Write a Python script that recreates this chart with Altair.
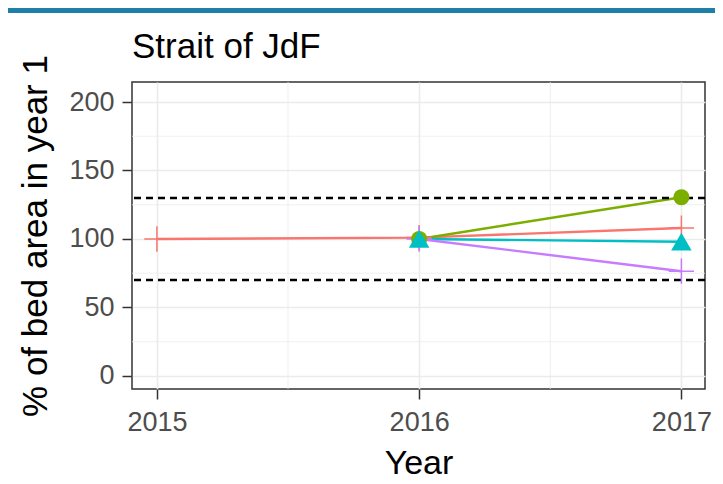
import altair as alt
import pandas as pd

# ---- data ----
series = ["Bed 1", "Bed 2", "Bed 3", "Bed 4"]
colors = ["#F8766D", "#7CAE00", "#00BFC4", "#C77CFF"]
years_bed1 = [2015, 2016, 2017]
vals_bed1 = [100, 101, 108]
years_bed2 = [2016, 2017]
vals_bed2 = [100, 130.5]
years_bed3 = [2016, 2017]
vals_bed3 = [100, 98]
years_bed4 = [2016, 2017]
vals_bed4 = [100, 76.5]
thresholds = [70, 130]
x_ticks = [2015, 2016, 2017]
y_ticks = [0, 50, 100, 150, 200]
x_minor = [2015.5, 2016.5]
y_minor = [25, 75, 125, 175]
chart_title = "Strait of JdF"
x_title = "Year"
y_title = "% of bed area in year 1"

rows = []
for name, ys, vs in zip(series,
                        [years_bed1, years_bed2, years_bed3, years_bed4],
                        [vals_bed1, vals_bed2, vals_bed3, vals_bed4]):
    for yr, v in zip(ys, vs):
        rows.append({"series": name, "year": yr, "value": v})
df = pd.DataFrame(rows)
thr_df = pd.DataFrame({"value": thresholds})
xminor_df = pd.DataFrame({"year": x_minor})
yminor_df = pd.DataFrame({"value": y_minor})

FONT = "Liberation Sans"
xscale = alt.Scale(domain=[2014.905, 2017.09], nice=False, zero=False)
yscale = alt.Scale(domain=[-9.5, 214.6], nice=False, zero=False)
cscale = alt.Scale(domain=series, range=colors)

x_enc = alt.X("year:Q", scale=xscale, title=x_title,
              axis=alt.Axis(values=x_ticks, format="d", grid=True,
                            gridColor="#ebebeb", gridWidth=1.6,
                            domain=False, tickColor="#333333", tickWidth=1.5,
                            tickSize=10, labelFont=FONT, labelFontSize=27,
                            labelColor="#4d4d4d", labelPadding=10,
                            labelFlush=False, labelOverlap=False,
                            titleFont=FONT, titleFontSize=34,
                            titleFontWeight="normal", titleColor="black",
                            titleY=84, titleBaseline="alphabetic"))
y_enc = alt.Y("value:Q", scale=yscale, title=y_title,
              axis=alt.Axis(values=y_ticks, grid=True,
                            gridColor="#ebebeb", gridWidth=1.6,
                            domain=False, tickColor="#333333", tickWidth=1.5,
                            tickSize=10, labelFont=FONT, labelFontSize=27,
                            labelColor="#4d4d4d", labelPadding=8,
                            titleFont=FONT, titleFontSize=35,
                            titleFontWeight="normal", titleColor="black",
                            titleX=-97, titleY=153.5, titleAlign="center",
                            titleBaseline="middle", titleAngle=270))

base = alt.Chart(df)

minor_x = alt.Chart(xminor_df).mark_rule(color="#ebebeb", strokeWidth=0.8).encode(
    x=alt.X("year:Q", scale=xscale))
minor_y = alt.Chart(yminor_df).mark_rule(color="#ebebeb", strokeWidth=0.8).encode(
    y=alt.Y("value:Q", scale=yscale))

dashed = alt.Chart(thr_df).mark_rule(color="black", strokeWidth=2.5,
                                     strokeDash=[7, 5]).encode(
    y=alt.Y("value:Q", scale=yscale))

lines = base.mark_line(strokeWidth=2.4).encode(
    x=x_enc, y=y_enc,
    color=alt.Color("series:N", scale=cscale, legend=None),
    order="year:Q")

plus = base.transform_filter(
    alt.FieldOneOfPredicate(field="series", oneOf=[series[0], series[3]])
).mark_point(shape="M-1,0L1,0M0,-1L0,1", size=640, filled=False,
             strokeWidth=1.5, opacity=1).encode(
    x=alt.X("year:Q", scale=xscale), y=alt.Y("value:Q", scale=yscale),
    color=alt.Color("series:N", scale=cscale, legend=None))

circ = base.transform_filter(
    alt.FieldEqualPredicate(field="series", equal=series[1])
).mark_point(shape="circle", size=260, filled=True, opacity=1).encode(
    x=alt.X("year:Q", scale=xscale), y=alt.Y("value:Q", scale=yscale),
    color=alt.Color("series:N", scale=cscale, legend=None))

tri = base.transform_filter(
    alt.FieldEqualPredicate(field="series", equal=series[2])
).mark_point(shape="triangle-up", size=420, filled=True, opacity=1).encode(
    x=alt.X("year:Q", scale=xscale), y=alt.Y("value:Q", scale=yscale),
    color=alt.Color("series:N", scale=cscale, legend=None))

topbar = alt.Chart(thr_df).mark_rect(color="#1f7fa6").encode(
    x=alt.value(-124), x2=alt.value(583), y=alt.value(-74), y2=alt.value(-69))

chart = alt.layer(minor_x, minor_y, lines, dashed, plus, circ, tri, topbar).properties(
    width=573, height=307,
    title=alt.TitleParams(chart_title, anchor="start", frame="group", font=FONT,
                          fontSize=35, fontWeight="normal", color="black",
                          baseline="alphabetic", offset=0, dy=85),
    autosize=alt.AutoSizeParams(type="none"),
    padding={"left": 124, "top": 74, "right": 10, "bottom": 93},
).configure_view(stroke="#333333", strokeWidth=1.5)

chart.save("out.html", embed_options={"renderer": "svg", "actions": False})
